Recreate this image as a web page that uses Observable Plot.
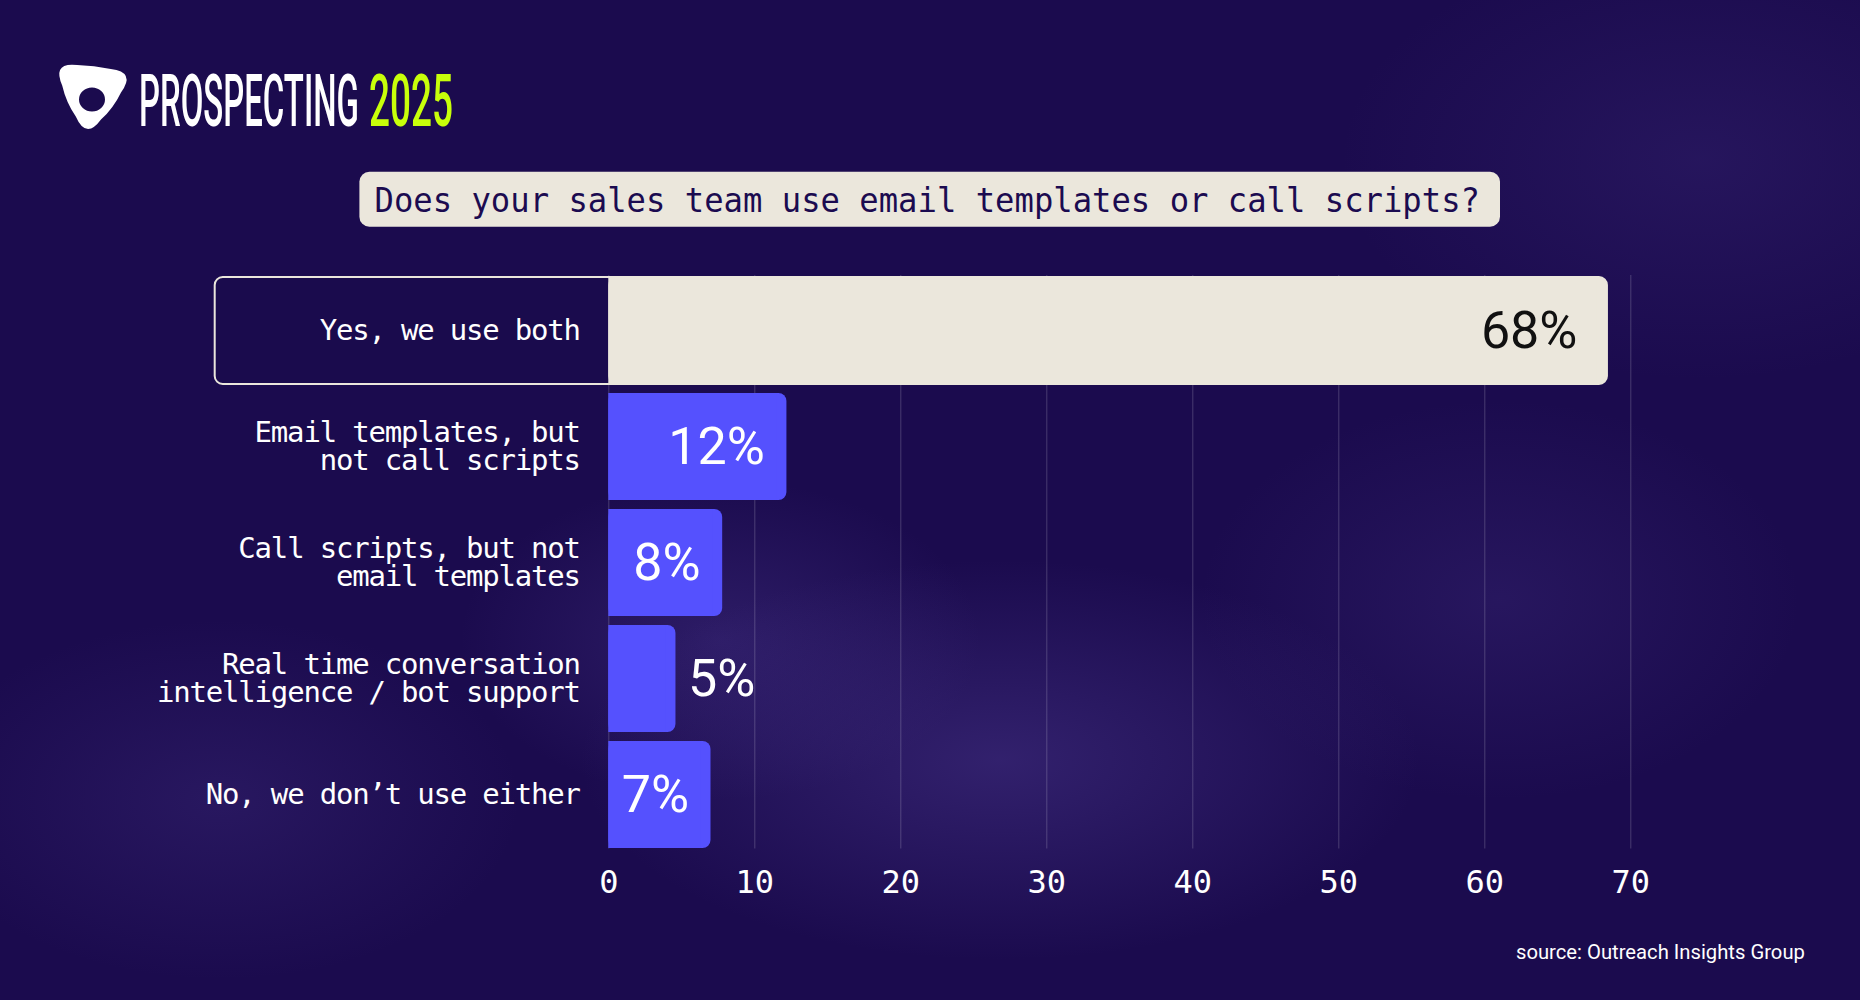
<!DOCTYPE html>
<html>
<head>
<meta charset="utf-8">
<script src="https://cdn.jsdelivr.net/npm/d3@7"></script>
<script src="https://cdn.jsdelivr.net/npm/@observablehq/plot@0.6"></script>
<style>
  html, body { margin: 0; padding: 0; }
  body {
    width: 1860px; height: 1000px; overflow: hidden; position: relative;
    background-color: #1b0b4e;
    background-image:
      radial-gradient(ellipse 420px 200px at 1000px 760px, rgba(88,68,160,0.38), rgba(88,68,160,0) 100%),
      radial-gradient(ellipse 260px 160px at 720px 640px, rgba(88,68,160,0.30), rgba(88,68,160,0) 100%),
      radial-gradient(ellipse 300px 180px at 220px 800px, rgba(88,68,160,0.22), rgba(88,68,160,0) 100%),
      radial-gradient(ellipse 360px 220px at 1700px 160px, rgba(88,68,160,0.18), rgba(88,68,160,0) 100%),
      radial-gradient(ellipse 300px 200px at 1500px 600px, rgba(88,68,160,0.20), rgba(88,68,160,0) 100%);
  }
  #header { position: absolute; left: 0; top: 0; }
  #chart { position: absolute; left: 0; top: 240px; }
  #footer { position: absolute; left: 0; top: 920px; }
</style>
</head>
<body>
<svg id="header" width="1860" height="240" xmlns="http://www.w3.org/2000/svg">
  <path fill="#ffffff" fill-rule="evenodd"
    d="M 77.2 65 Q 94 65.5 110.8 69 Q 136 72 121 92.4 Q 113.5 108 101 119.6 Q 86 140 75.8 116.6 Q 66 102 62.2 85.4 Q 52 62 77.2 65 Z
       M 105 99.5 A 13 12 0 1 0 79 99.5 A 13 12 0 1 0 105 99.5 Z"/>
  <text class="fit" data-x="139" data-w="220" y="125.7" font-family="Roboto" font-weight="500" font-size="73" fill="#ffffff">PROSPECTING</text>
  <text class="fit" data-x="369" data-w="84" y="125.7" font-family="Roboto" font-weight="500" font-size="73" fill="#c8ff0a">2025</text>
  <rect x="359.4" y="171.7" width="1140.6" height="55" rx="10" fill="#ebe7dc"/>
  <text class="fit" data-x="374.5" data-w="1106" y="212.5" font-family="DejaVu Sans Mono" font-size="34"
        fill="#1b0b50">Does your sales team use email templates or call scripts?</text>
</svg>
<div id="chart"></div>
<svg id="footer" width="1860" height="80" xmlns="http://www.w3.org/2000/svg">
  <text class="fit" data-x="1516" data-w="289" y="39.5" font-family="Roboto" font-size="20" fill="#ffffff">source: Outreach Insights Group</text>
</svg>
<script>
// ---- data ----
const categories = [
  "Yes, we use both",
  "Email templates, but\nnot call scripts",
  "Call scripts, but not\nemail templates",
  "Real time conversation\nintelligence / bot support",
  "No, we don\u2019t use either"
];
const values = [68.4, 12.2, 7.8, 4.6, 7.0];
const valueLabels = ["68%", "12%", "8%", "5%", "7%"];
const xTicks = [0, 10, 20, 30, 40, 50, 60, 70];

// ---- styling ----
const BLUE = "#5551fe";
const BEIGE = "#ebe7dc";
const MONO = "DejaVu Sans Mono";
const SANS = "Roboto";

// fit header/footer texts to their measured widths (horizontal scale only)
document.querySelectorAll("text.fit").forEach(t => {
  const x = +t.dataset.x, w = +t.dataset.w;
  const natural = t.getComputedTextLength();
  t.setAttribute("x", 0);
  t.setAttribute("transform", `translate(${x},0) scale(${w / natural},1)`);
});

const rows = categories.map((c, i) => ({
  category: c,
  value: values[i],
  label: valueLabels[i],
  highlight: i === 0
}));
const highlighted = rows.filter(d => d.highlight);
const others = rows.filter(d => !d.highlight);
const inside = others.filter(d => d.value >= 6);
const outside = others.filter(d => d.value < 6);
const fillOf = d => d.highlight ? BEIGE : BLUE;

const chart = Plot.plot({
  width: 1860,
  height: 680,
  marginLeft: 608.3,
  marginRight: 229.7,
  marginTop: 25.8,
  marginBottom: 61.5,
  style: { background: "transparent", color: "#ffffff", overflow: "visible" },
  x: { domain: [0, 70], ticks: xTicks },
  y: { domain: categories, padding: 0.079 },
  color: { type: "identity" },
  marks: [
    Plot.ruleX(xTicks, { stroke: "#ffffff", strokeOpacity: 0.2, strokeWidth: 1, insetTop: 9.2, insetBottom: 10 }),
    // highlight outline round the first row (label + bar)
    Plot.barX(highlighted, {
      x: "value", y: "category", insetLeft: -393.6, rx: 8,
      fill: "#1b0b4e", fillOpacity: 0.35, stroke: BEIGE, strokeWidth: 2
    }),
    // bars: rounded version, then square overlay to keep the left edge straight
    Plot.barX(rows, { x: "value", y: "category", fill: fillOf, rx: 8 }),
    Plot.barX(rows, { x: "value", y: "category", fill: fillOf, insetRight: 10 }),
    // value labels
    Plot.text(highlighted, {
      x: "value", y: "category", text: "label", textAnchor: "end", dx: -30,
      fill: "#111111", fontSize: 52, fontFamily: SANS
    }),
    Plot.text(inside, {
      x: "value", y: "category", text: "label", textAnchor: "end", dx: -22,
      fill: "#ffffff", fontSize: 52, fontFamily: SANS
    }),
    Plot.text(outside, {
      x: "value", y: "category", text: "label", textAnchor: "start", dx: 12,
      fill: "#ffffff", fontSize: 52, fontFamily: SANS
    }),
    Plot.axisY({
      tickSize: 0, tickPadding: 29, fontSize: 29, fontFamily: MONO,
      fill: "#ffffff", lineHeight: 0.95, label: null
    }),
    Plot.axisX({
      ticks: xTicks, tickSize: 0, tickPadding: 11.5, fontSize: 32, fontFamily: MONO,
      fill: "#ffffff", label: null
    })
  ]
});

d3.select(chart).selectAll('g[aria-label="y-axis tick label"] text').style("letter-spacing", "-1.2px");
document.getElementById("chart").appendChild(chart);
</script>
</body>
</html>
